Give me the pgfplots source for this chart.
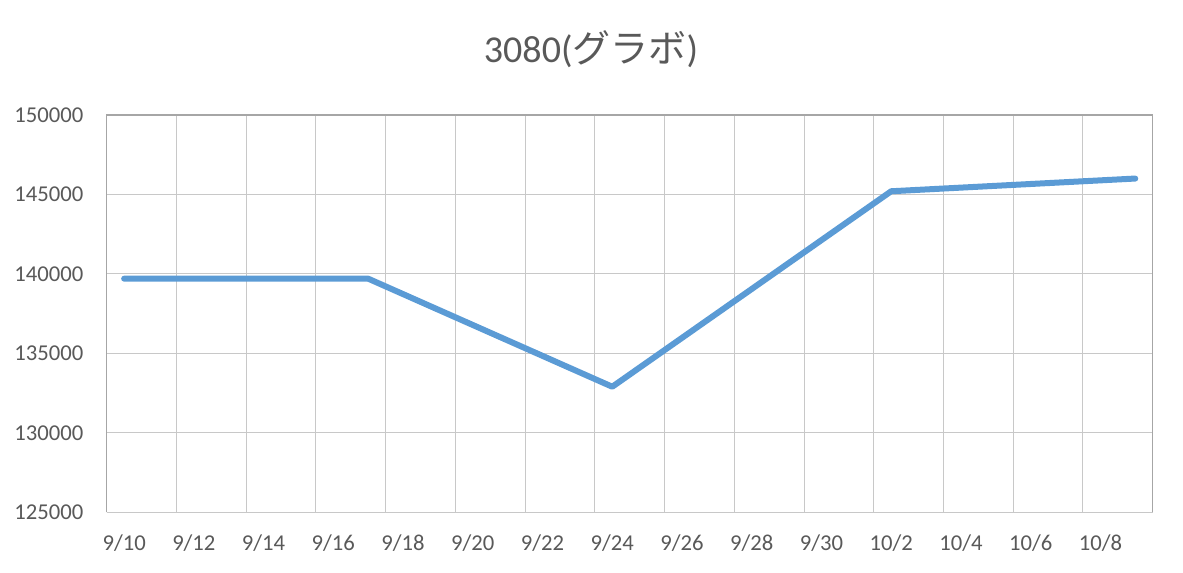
\documentclass[border=0pt]{standalone}
\usepackage{pgfplots}
\pgfplotsset{compat=1.18}
\usepackage{fontspec}
\setmainfont{Carlito}
\newfontfamily\cjk{Noto Sans CJK JP}
\definecolor{txt}{HTML}{595959}
\definecolor{gridc}{HTML}{C8C8C8}
\definecolor{borderc}{HTML}{A6A6A6}
\definecolor{linec}{HTML}{5B9BD5}
\begin{document}
\begin{tikzpicture}
\path[use as bounding box] (0pt,0pt) rectangle (887.25pt,429pt);
\begin{axis}[
  at={(80.025pt,44.775pt)}, anchor=south west,
  scale only axis, width=784.5pt, height=298pt,
  xmin=-0.5, xmax=29.5, ymin=125000, ymax=150000,
  ytick={125000,130000,...,150000},
  xtick={0,2,...,28},
  xticklabels={9/10,9/12,9/14,9/16,9/18,9/20,9/22,9/24,9/26,9/28,9/30,10/2,10/4,10/6,10/8},
  minor xtick={1.5,3.5,...,27.5},
  ymajorgrids, xminorgrids,
  major grid style={draw=gridc, line width=0.75pt},
  minor grid style={draw=gridc, line width=0.75pt},
  major tick length=0pt, minor tick length=0pt,
  tick style={draw=none},
  axis line style={draw=none},
  scaled y ticks=false,
  ticklabel style={font=\fontsize{17}{17}\selectfont, text=txt},
  yticklabel style={xshift=-14pt, /pgf/number format/fixed, /pgf/number format/precision=0},
  xticklabel style={yshift=-13pt},
  /pgf/number format/assume math mode=true,
  /pgf/number format/1000 sep={},
  clip=false,
]
\draw[gridc, line width=0.75pt] (rel axis cs:0,0) -- (rel axis cs:1,0);
\draw[borderc, line width=1pt] (rel axis cs:0,0) -- (rel axis cs:0,1) -- (rel axis cs:1,1) -- (rel axis cs:1,0);
\addplot[linec, line width=4.5pt, line join=round, line cap=round] coordinates {
  (0,139700) (7,139700) (14,132900) (22,145200) (29,146000)
};
\end{axis}
\node[anchor=base, text=txt, font=\fontsize{28.5}{28.5}\selectfont] at (443.25pt,382pt) {3080({\cjk グラボ})};
\end{tikzpicture}
\end{document}
